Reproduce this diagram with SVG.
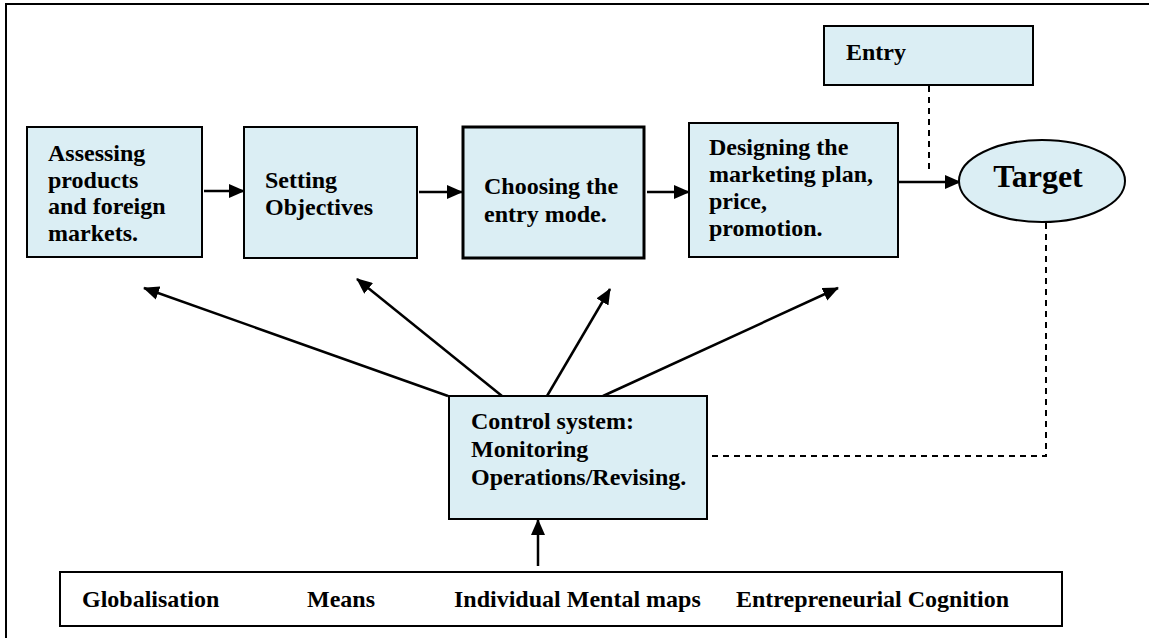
<svg xmlns="http://www.w3.org/2000/svg" width="1149" height="638" viewBox="0 0 1149 638">
<style>
.box{fill:#DBEEF4;stroke:#000;stroke-width:2}
.thick{stroke-width:3}
.t{font-family:"Liberation Serif","Times New Roman",serif;font-weight:bold;font-size:24px;fill:#000}
.big{font-size:32px}
.ln{stroke:#000;stroke-width:2.5;fill:none}
.dash{stroke:#000;stroke-width:2;fill:none;stroke-dasharray:6,5}
</style>
<defs>
<marker id="ah" markerWidth="16" markerHeight="14" refX="15" refY="7" orient="auto" markerUnits="userSpaceOnUse">
<path d="M0,0 L16,7 L0,14 Z" fill="#000"/>
</marker>
</defs>
<rect width="1149" height="638" fill="#fff"/>
<path d="M6,640 V4 H1150" fill="none" stroke="#000" stroke-width="2"/>

<g id="connectors">
<line class="ln" x1="204" y1="191" x2="244" y2="191" marker-end="url(#ah)"/>
<line class="ln" x1="419" y1="192" x2="462" y2="192" marker-end="url(#ah)"/>
<line class="ln" x1="647" y1="192" x2="689" y2="192" marker-end="url(#ah)"/>
<line class="ln" x1="898" y1="182" x2="960" y2="182" marker-end="url(#ah)"/>
<line class="dash" x1="929" y1="86" x2="929" y2="172"/>
<polyline class="dash" points="1046,223 1046,456 708,456"/>
<line class="ln" x1="448" y1="396" x2="144" y2="288" marker-end="url(#ah)"/>
<line class="ln" x1="502" y1="396" x2="357" y2="279" marker-end="url(#ah)"/>
<line class="ln" x1="547" y1="396" x2="610" y2="289" marker-end="url(#ah)"/>
<line class="ln" x1="603" y1="396" x2="838" y2="288" marker-end="url(#ah)"/>
<line class="ln" x1="538" y1="566" x2="538" y2="520" marker-end="url(#ah)"/>
</g>

<g id="assessing">
<rect class="box" x="27" y="127" width="175" height="130"/>
<text class="t" x="48" y="161">Assessing</text>
<text class="t" x="48" y="188">products</text>
<text class="t" x="48" y="214">and foreign</text>
<text class="t" x="48" y="241">markets.</text>
</g>

<g id="setting">
<rect class="box" x="244" y="127" width="173" height="131"/>
<text class="t" x="265" y="188">Setting</text>
<text class="t" x="265" y="215">Objectives</text>
</g>

<g id="choosing">
<rect class="box thick" x="463" y="127" width="181" height="131"/>
<text class="t" x="484" y="194">Choosing the</text>
<text class="t" x="484" y="222">entry mode.</text>
</g>

<g id="designing">
<rect class="box" x="689" y="123" width="209" height="134"/>
<text class="t" x="709" y="155">Designing the</text>
<text class="t" x="709" y="182">marketing plan,</text>
<text class="t" x="709" y="209">price,</text>
<text class="t" x="709" y="236">promotion.</text>
</g>

<g id="entry">
<rect class="box" x="824" y="26" width="209" height="59"/>
<text class="t" x="846" y="60">Entry</text>
</g>

<g id="target">
<ellipse class="box" cx="1042" cy="181" rx="83" ry="41" stroke-width="1.5"/>
<text class="t big" x="1038" y="187" text-anchor="middle">Target</text>
</g>

<g id="control">
<rect class="box" x="449" y="396" width="258" height="123"/>
<text class="t" x="471" y="429">Control system:</text>
<text class="t" x="471" y="457">Monitoring</text>
<text class="t" x="471" y="485">Operations/Revising.</text>
</g>

<g id="factors">
<rect x="60" y="572" width="1002" height="54" fill="#fff" stroke="#000" stroke-width="2"/>
<text class="t" x="82" y="607">Globalisation</text>
<text class="t" x="307" y="607">Means</text>
<text class="t" x="454" y="607">Individual Mental maps</text>
<text class="t" x="736" y="607">Entrepreneurial Cognition</text>
</g>
</svg>
